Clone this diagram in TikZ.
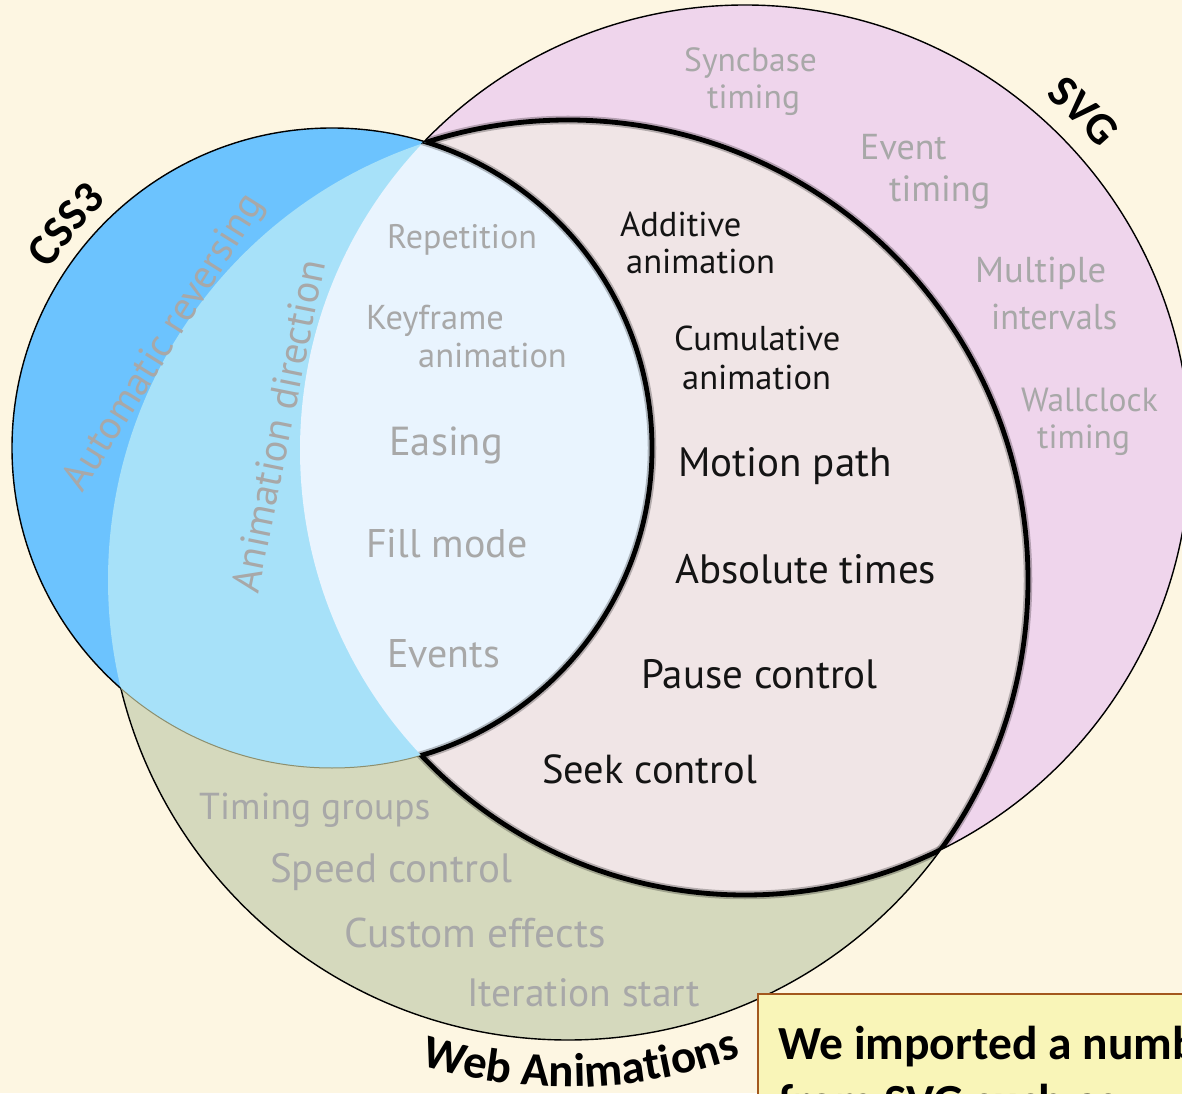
\documentclass[tikz,border=0pt]{standalone}
\usepackage{fontspec}
\setmainfont{PT Sans}
\newfontfamily\labelfont{Carlito}
\usetikzlibrary{decorations.text}

\definecolor{cream}{HTML}{FDF6E2}
\definecolor{cssblue}{HTML}{6CC3FE}
\definecolor{medblue}{HTML}{A7E1F9}
\definecolor{paleblue}{HTML}{E9F4FE}
\definecolor{svgpink}{HTML}{EFD5EC}
\definecolor{pinkgray}{HTML}{F0E5E6}
\definecolor{waolive}{HTML}{D5D9BD}
\definecolor{oliveline}{HTML}{8E8F6C}
\definecolor{itemgray}{HTML}{A8A8A8}
\definecolor{notefill}{HTML}{F9F5B8}
\definecolor{noteline}{HTML}{A3581E}

\newcommand{\fs}[1]{\fontsize{#1}{#1}\selectfont}

\begin{document}
\begin{tikzpicture}[x=1pt,y=1pt,
  grayitem/.style={text=itemgray, inner sep=0pt, anchor=base west},
  blackitem/.style={text=black!92, inner sep=0pt, anchor=base west},
  thinline/.style={line width=1.4pt, black},
  thickline/.style={line width=4.8pt, black},
  haloline/.style={line width=8.5pt, black, opacity=0.25},
]
% the three sets
\def\csspath{(332,645) circle[radius=320]}
\def\svgpath{(745,643) circle[radius=445]}
\def\wapath{(568,513) circle[radius=460]}
\def\outer{(-60,-60) rectangle (1260,1160)}

\useasboundingbox (0,0) rectangle (1182,1093);
\clip (0,0) rectangle (1182,1093);
\fill[cream] (0,0) rectangle (1182,1093);

% region fills
\fill[svgpink] \svgpath;
\fill[waolive] \wapath;
\begin{scope}
  \clip \svgpath;
  \fill[pinkgray] \wapath;
\end{scope}
\fill[cssblue] \csspath;
\begin{scope}
  \clip \csspath;
  \fill[medblue] \wapath;
  \clip \wapath;
  \fill[paleblue] \svgpath;
\end{scope}

% thin outer outlines
\begin{scope}[even odd rule]
  \clip \outer \wapath;
  \draw[thinline] \csspath;
  \draw[thinline] \svgpath;
\end{scope}
\begin{scope}[even odd rule]
  \clip \outer \csspath;
  \clip \outer \svgpath;
  \draw[thinline] \wapath;
\end{scope}
% faint edge between the blue and olive parts
\begin{scope}
  \clip \wapath;
  \begin{scope}[even odd rule]
    \clip \outer \svgpath;
    \draw[line width=1pt, oliveline] \csspath;
  \end{scope}
\end{scope}

% thick outline of the shared SVG / Web Animations part
\foreach \st in {haloline, thickline} {
  \begin{scope}
    \clip \svgpath;
    \begin{scope}[even odd rule]
      \clip \outer \csspath;
      \draw[\st] \wapath;
    \end{scope}
  \end{scope}
  \begin{scope}
    \clip \wapath;
    \begin{scope}[even odd rule]
      \clip \outer \csspath;
      \draw[\st] \svgpath;
    \end{scope}
  \end{scope}
  \begin{scope}
    \clip \svgpath;
    \clip \wapath;
    \draw[\st] \csspath;
  \end{scope}
}

% set titles along the circles
\path[decorate, decoration={text along path, text align=center,
  text={|\labelfont\bfseries\fs{45}|CSS3}}]
  (332,645) ++(167:334) arc[start angle=167, end angle=113, radius=334];
\path[decorate, decoration={text along path, text align=center,
  text={|\labelfont\bfseries\fs{45}|SVG}}]
  (745,643) ++(67:465) arc[start angle=67, end angle=23, radius=465];
\path[decorate, decoration={text along path, text align=center,
  text={|\labelfont\bfseries\fs{47}|Web Animations}}]
  (568,513) ++(235:507) arc[start angle=235, end angle=308, radius=507];

% CSS3 only / CSS3 with Web Animations
\node[text=itemgray, inner sep=0pt, rotate=58, font=\fs{40}] (autorev) at (165,750) {Automatic reversing};
\node[text=itemgray, inner sep=0pt, rotate=78.5, font=\fs{40}] (animdir) at (278,667) {Animation direction};

% all three
\node[grayitem, font=\fs{34}] (rep) at (387,844) {Repetition};
\node[grayitem, font=\fs{34.5}] (key1) at (366,763) {Keyframe};
\node[grayitem, font=\fs{34.5}] (key2) at (418,725) {animation};
\node[grayitem, font=\fs{40.5}] (ease) at (389,637) {Easing};
\node[grayitem, font=\fs{40}] (fill) at (366,535) {Fill mode};
\node[grayitem, font=\fs{40}] (events) at (387,426) {Events};

% SVG with Web Animations
\node[blackitem, font=\fs{34.5}] (add1) at (620,856) {Additive};
\node[blackitem, font=\fs{34.5}] (add2) at (626,819) {animation};
\node[blackitem, font=\fs{34.5}] (cum1) at (674,742) {Cumulative};
\node[blackitem, font=\fs{34.5}] (cum2) at (682,703) {animation};
\node[blackitem, font=\fs{41}] (motion) at (678,616) {Motion path};
\node[blackitem, font=\fs{41}] (abs) at (675,509) {Absolute times};
\node[blackitem, font=\fs{41}] (pause) at (641,405) {Pause control};
\node[blackitem, font=\fs{40.5}] (seek) at (542,310) {Seek control};

% SVG only
\node[grayitem, font=\fs{33.5}] (sync1) at (684,1021) {Syncbase};
\node[grayitem, font=\fs{33.5}] (sync2) at (707,984) {timing};
\node[grayitem, font=\fs{36}] (evt1) at (860,933) {Event};
\node[grayitem, font=\fs{36.5}] (evt2) at (889,891) {timing};
\node[grayitem, font=\fs{36}] (mult1) at (975,810) {\resizebox{131pt}{\height}{Multiple}};
\node[grayitem, font=\fs{36}] (mult2) at (991,763) {\resizebox{126pt}{\height}{intervals}};
\node[grayitem, font=\fs{33.5}] (wall1) at (1021,681) {Wallclock};
\node[grayitem, font=\fs{33.5}] (wall2) at (1037,644) {timing};

% Web Animations only
\node[grayitem, font=\fs{37.5}] (groups) at (199,274) {Timing groups};
\node[grayitem, font=\fs{41}] (speed) at (270,211) {Speed control};
\node[grayitem, font=\fs{41.5}] (custom) at (344,146) {Custom effects};
\node[grayitem, font=\fs{39.5}] (iter) at (467,87) {Iteration start};

% note box
\node[draw=noteline, line width=2.4pt, fill=notefill, anchor=north west,
  minimum width=470pt, minimum height=140pt, inner sep=0pt] (note) at (757,100) {};
\node[blackitem, text=black, font=\labelfont\bfseries\fs{47.5}] (note1) at (778,34) {We imported a number};
\node[blackitem, text=black, font=\labelfont\bfseries\fs{47.5}] (note2) at (778,-24) {from SVG such as};
\end{tikzpicture}
\end{document}
